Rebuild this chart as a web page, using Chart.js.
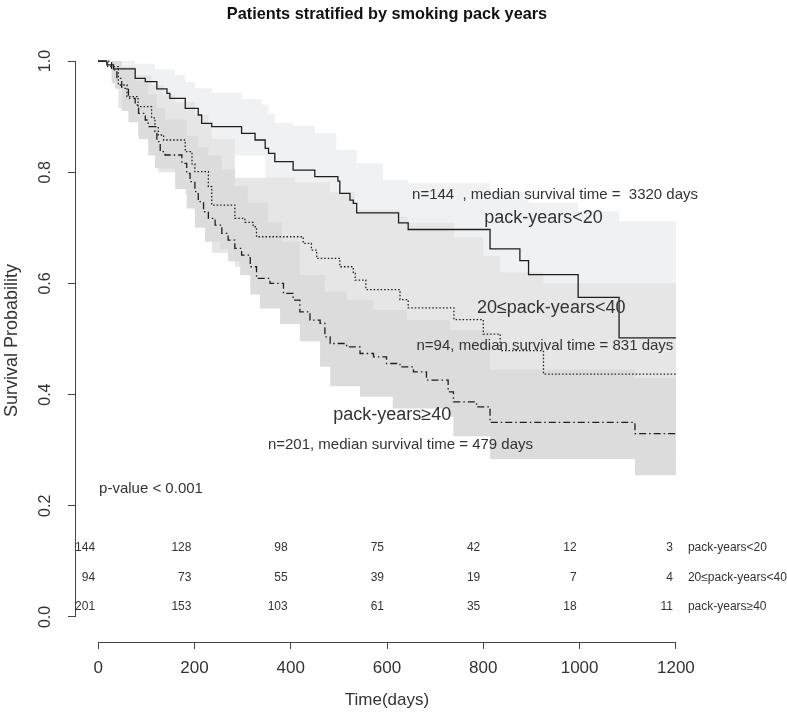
<!DOCTYPE html>
<html>
<head>
<meta charset="utf-8">
<script src="https://cdn.jsdelivr.net/npm/chart.js@4.4.1/dist/chart.umd.min.js"></script>
<style>
  html, body { margin: 0; padding: 0; background: #fff; }
  #wrap { width: 787px; height: 712px; }
</style>
</head>
<body>
<div id="wrap"><canvas id="kmChart" width="787" height="712"></canvas></div>
<script>
// === data ===
const xTicks = [0, 200, 400, 600, 800, 1000, 1200];
const yTicks = [0, 0.2, 0.4, 0.6, 0.8, 1.0];
const groupNames = ['pack-years<20', '20≤pack-years<40', 'pack-years≥40'];

// Kaplan-Meier steps: [day, survival after the drop]
const kmLow = [[0,1],[18,0.993],[32,0.986],[77,0.969],[98,0.963],[122,0.950],[143,0.942],[149,0.933],
  [181,0.915],[208,0.903],[215,0.888],[236,0.882],[298,0.870],[326,0.858],[347,0.843],[354,0.834],
  [367,0.819],[405,0.804],[450,0.792],[498,0.784],[502,0.762],[523,0.750],[530,0.744],[537,0.727],
  [624,0.709],[644,0.697],[814,0.662],[876,0.641],[894,0.616],[997,0.575],[1082,0.502],[1200,0.502]];
const kmMid = [[0,1],[20,0.990],[42,0.957],[60,0.936],[83,0.918],[111,0.898],[118,0.882],[125,0.867],
  [136,0.858],[181,0.837],[195,0.815],[201,0.801],[229,0.774],[236,0.741],[284,0.717],[305,0.710],
  [322,0.702],[329,0.684],[426,0.672],[443,0.660],[454,0.645],[502,0.630],[530,0.618],[534,0.606],
  [556,0.589],[627,0.571],[644,0.556],[739,0.535],[800,0.509],[835,0.479],[925,0.437],[1200,0.437]];
const kmHigh = [[0,1],[28,0.984],[39,0.969],[49,0.951],[63,0.933],[77,0.921],[84,0.906],[98,0.894],
  [104,0.882],[118,0.873],[122,0.855],[129,0.837],[139,0.831],[174,0.816],[184,0.798],[191,0.783],
  [201,0.765],[208,0.747],[219,0.729],[229,0.717],[243,0.705],[257,0.690],[270,0.678],[284,0.663],
  [298,0.651],[316,0.630],[329,0.609],[357,0.600],[385,0.582],[405,0.570],[419,0.549],[440,0.534],
  [461,0.528],[471,0.504],[482,0.492],[516,0.486],[544,0.474],[572,0.468],[599,0.456],[627,0.450],
  [655,0.441],[682,0.426],[727,0.405],[738,0.387],[786,0.378],[814,0.350],[1115,0.330],[1200,0.330]];

// confidence band edges (same step layout)
const ciLowUpper = [[0,1],[77,0.995],[118,0.985],[160,0.975],[181,0.962],[201,0.951],[236,0.943],
  [298,0.932],[340,0.922],[354,0.905],[367,0.889],[405,0.883],[450,0.870],[495,0.840],[537,0.816],
  [592,0.786],[644,0.780],[814,0.765],[894,0.745],[997,0.730],[1082,0.712],[1200,0.712]];
const ciLowLower = [[0,1],[32,0.960],[77,0.935],[122,0.905],[149,0.880],[181,0.860],[215,0.840],
  [236,0.830],[347,0.785],[405,0.750],[502,0.700],[537,0.670],[644,0.635],[814,0.590],[894,0.540],
  [997,0.480],[1082,0.330],[1200,0.330]];
const ciMidUpper = [[0,1],[42,0.990],[60,0.975],[111,0.957],[136,0.940],[160,0.926],[201,0.903],
  [229,0.890],[236,0.860],[284,0.790],[409,0.782],[482,0.764],[534,0.732],[627,0.720],[644,0.709],
  [739,0.683],[800,0.650],[835,0.620],[925,0.600],[1200,0.600]];
const ciMidLower = [[0,1],[42,0.915],[83,0.865],[125,0.800],[181,0.760],[236,0.655],[284,0.630],
  [329,0.590],[426,0.575],[454,0.550],[534,0.505],[556,0.490],[644,0.455],[739,0.430],[800,0.400],
  [835,0.370],[925,0.290],[1200,0.290]];
const ciHighUpper = [[0,1],[49,0.990],[77,0.965],[104,0.940],[122,0.915],[139,0.895],[184,0.865],
  [208,0.845],[229,0.830],[257,0.805],[284,0.775],[311,0.745],[353,0.710],[382,0.675],[419,0.615],
  [471,0.585],[516,0.570],[572,0.552],[641,0.534],[731,0.516],[814,0.445],[1115,0.430],[1200,0.430]];
const ciHighLower = [[0,1],[28,0.960],[35,0.950],[49,0.910],[63,0.890],[84,0.860],[104,0.830],
  [118,0.807],[160,0.770],[184,0.735],[201,0.700],[222,0.675],[253,0.662],[270,0.640],[295,0.615],
  [316,0.580],[336,0.555],[378,0.527],[419,0.496],[461,0.450],[482,0.415],[544,0.396],[612,0.375],
  [727,0.360],[738,0.325],[814,0.284],[1115,0.255],[1200,0.255]];

// numbers at risk
const riskTimes = [0, 200, 400, 600, 800, 1000, 1200];
const riskLow = [144, 128, 98, 75, 42, 12, 3];
const riskMid = [94, 73, 55, 39, 19, 7, 4];
const riskHigh = [201, 153, 103, 61, 35, 18, 11];

// text notes, anchored in data units
const notes = [
  { text: 'n=144  , median survival time =  3320 days', day: 949, surv: 0.759, kind: 'small' },
  { text: 'pack-years<20', day: 925, surv: 0.718, kind: 'big' },
  { text: '20≤pack-years<40', day: 941, surv: 0.556, kind: 'big' },
  { text: 'n=94, median survival time = 831 days', day: 928, surv: 0.487, kind: 'small' },
  { text: 'pack-years≥40', day: 611, surv: 0.363, kind: 'big' },
  { text: 'n=201, median survival time = 479 days', day: 628, surv: 0.309, kind: 'small' },
  { text: 'p-value < 0.001', day: 2, surv: 0.23, kind: 'left' }
];

// === layout / style ===
const FONT = '"Liberation Sans", Arial, sans-serif';
const riskRowY = [0.125, 0.07, 0.018];
const bandColors = ['#f0f1f2', '#e6e6e6', '#dcdcdc'];
const lineDashes = [[], [1.5, 2], [7, 3, 1.5, 3]];

const toPts = arr => arr.map(([x, y]) => ({ x, y }));

function bandSets(upper, lower, color, ord) {
  const base = { pointRadius: 0, borderWidth: 0, borderColor: 'rgba(0,0,0,0)', stepped: true };
  return [
    Object.assign({ data: toPts(upper), fill: '+1', backgroundColor: color, order: ord }, base),
    Object.assign({ data: toPts(lower), fill: false, order: ord - 1 }, base)
  ];
}

function curveSet(points, dash) {
  return {
    data: toPts(points), stepped: true, fill: false, pointRadius: 0,
    borderColor: '#1e1e1e', borderWidth: 1.3, borderDash: dash, order: 0
  };
}

const rPlot = {
  id: 'rPlot',
  afterDraw(chart) {
    const { ctx, chartArea: a, scales: { x, y } } = chart;
    ctx.save();
    // axis lines spanning the tick range only
    ctx.strokeStyle = '#444';
    ctx.lineWidth = 1;
    ctx.beginPath();
    const ax = Math.round(a.left) + 0.5;
    ctx.moveTo(ax, y.getPixelForValue(yTicks[0]));
    ctx.lineTo(ax, y.getPixelForValue(yTicks[yTicks.length - 1]));
    const ay = Math.round(a.bottom) + 0.5;
    ctx.moveTo(x.getPixelForValue(xTicks[0]), ay);
    ctx.lineTo(x.getPixelForValue(xTicks[xTicks.length - 1]), ay);
    ctx.stroke();

    // rotated y tick labels
    ctx.fillStyle = '#333';
    ctx.font = '16px ' + FONT;
    ctx.textAlign = 'center';
    ctx.textBaseline = 'middle';
    yTicks.forEach(v => {
      ctx.save();
      ctx.translate(a.left - 29, y.getPixelForValue(v));
      ctx.rotate(-Math.PI / 2);
      ctx.fillText(v.toFixed(1), 0, 0);
      ctx.restore();
    });

    // notes
    notes.forEach(n => {
      ctx.font = (n.kind === 'big' ? '18px ' : '15px ') + FONT;
      ctx.textAlign = n.kind === 'left' ? 'left' : 'center';
      ctx.fillStyle = '#333';
      ctx.fillText(n.text, x.getPixelForValue(n.day), y.getPixelForValue(n.surv));
    });

    // numbers at risk
    ctx.font = '12px ' + FONT;
    [riskLow, riskMid, riskHigh].forEach((row, g) => {
      const py = y.getPixelForValue(riskRowY[g]);
      ctx.textAlign = 'right';
      row.forEach((n, i) => ctx.fillText(String(n), x.getPixelForValue(riskTimes[i]) - 3, py));
      ctx.textAlign = 'left';
      ctx.fillText(groupNames[g], x.getPixelForValue(riskTimes[riskTimes.length - 1]) + 12, py);
    });
    ctx.restore();
  }
};

const ctx = document.getElementById('kmChart').getContext('2d');
const kmChart = new Chart(ctx, {
  type: 'line',
  data: {
    datasets: [
      ...bandSets(ciLowUpper, ciLowLower, bandColors[0], 6),
      ...bandSets(ciMidUpper, ciMidLower, bandColors[1], 4),
      ...bandSets(ciHighUpper, ciHighLower, bandColors[2], 2),
      curveSet(kmLow, lineDashes[0]),
      curveSet(kmMid, lineDashes[1]),
      curveSet(kmHigh, lineDashes[2])
    ]
  },
  options: {
    responsive: false,
    animation: false,
    layout: { padding: { top: 0, right: 88, bottom: 0, left: 0 } },
    plugins: {
      legend: { display: false },
      tooltip: { enabled: false },
      title: {
        display: true,
        text: 'Patients stratified by smoking pack years',
        fullSize: false,
        color: '#111',
        font: { family: FONT, size: 16.3, weight: 'bold', lineHeight: 1.2 },
        padding: { top: 4.5, bottom: 15 }
      }
    },
    scales: {
      x: {
        type: 'linear',
        min: -48,
        max: 1248,
        afterBuildTicks: s => { s.ticks = xTicks.map(v => ({ value: v })); },
        afterFit: s => { s.height = 70; },
        ticks: {
          color: '#333', font: { family: FONT, size: 17 }, padding: 9, maxRotation: 0, autoSkip: false,
          callback: v => String(v)
        },
        grid: { display: true, drawOnChartArea: false, drawTicks: true, tickLength: 7, color: '#444' },
        border: { display: false },
        title: {
          display: true, text: 'Time(days)', color: '#333',
          font: { family: FONT, size: 17, lineHeight: 1.2 }, padding: { top: 0, bottom: 1.5 }
        }
      },
      y: {
        type: 'linear',
        min: -0.045,
        max: 1.0396,
        afterBuildTicks: s => { s.ticks = yTicks.map(v => ({ value: v })); },
        afterFit: s => { s.width = 75; },
        ticks: { display: false },
        grid: { display: true, drawOnChartArea: false, drawTicks: true, tickLength: 7, color: '#444' },
        border: { display: false },
        title: {
          display: true, text: 'Survival Probability', color: '#333',
          font: { family: FONT, size: 18, lineHeight: 1.2 }, padding: { top: 1.5 }
        }
      }
    }
  },
  plugins: [rPlot]
});
</script>
</body>
</html>
